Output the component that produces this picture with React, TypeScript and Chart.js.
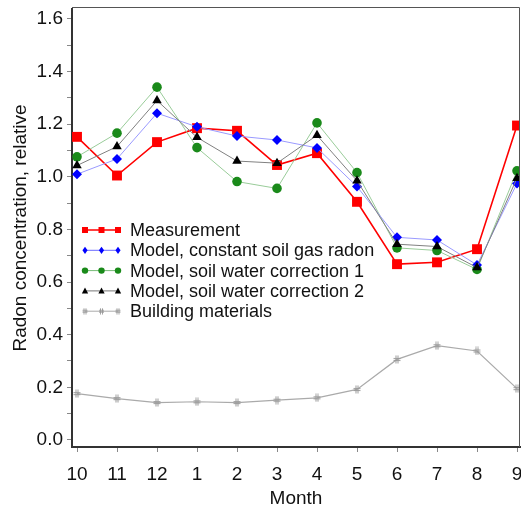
import React, { useEffect, useRef } from "react";
import { Chart, registerables } from "chart.js";

Chart.register(...registerables);

const months = ["10", "11", "12", "1", "2", "3", "4", "5", "6", "7", "8", "9"];
const measurement = [1.152, 1.005, 1.132, 1.185, 1.175, 1.045, 1.09, 0.905, 0.668, 0.675, 0.725, 1.195];
const modelConstant = [1.01, 1.068, 1.242, 1.19, 1.155, 1.14, 1.11, 0.963, 0.77, 0.76, 0.665, 0.975];
const modelSoil1 = [1.076, 1.166, 1.341, 1.111, 0.982, 0.956, 1.205, 1.016, 0.73, 0.72, 0.648, 1.023];
const modelSoil2 = [1.043, 1.115, 1.29, 1.15, 1.06, 1.052, 1.158, 0.985, 0.744, 0.735, 0.655, 0.995];
const building = [0.176, 0.157, 0.142, 0.145, 0.142, 0.151, 0.16, 0.192, 0.306, 0.358, 0.338, 0.195];
const yTicks = [0, 0.1, 0.2, 0.3, 0.4, 0.5, 0.6, 0.7, 0.8, 0.9, 1.0, 1.1, 1.2, 1.3, 1.4, 1.5, 1.6];

const FONT = "Arial, 'Liberation Sans', Helvetica, sans-serif";

function makeHashMarker(size: number, color: string): HTMLCanvasElement {
  const c = document.createElement("canvas");
  c.width = size;
  c.height = size;
  const g = c.getContext("2d")!;
  g.strokeStyle = color;
  g.lineWidth = 1;
  const a = Math.round(size * 0.35) + 0.5;
  const b = Math.round(size * 0.65) - 0.5;
  g.beginPath();
  g.moveTo(a, 0.5);
  g.lineTo(a, size - 0.5);
  g.moveTo(b, 0.5);
  g.lineTo(b, size - 0.5);
  g.moveTo(1, size * 0.4);
  g.lineTo(size - 1, size * 0.4);
  g.moveTo(1, size * 0.62);
  g.lineTo(size - 1, size * 0.62);
  g.stroke();
  return c;
}

function drawMarker(ctx: CanvasRenderingContext2D, style: any, x: number, y: number, r: number, color: string) {
  ctx.save();
  ctx.fillStyle = color;
  ctx.strokeStyle = color;
  if (typeof style !== "string") {
    const w = style.width;
    ctx.drawImage(style, x - w / 2, y - w / 2);
    ctx.restore();
    return;
  }
  ctx.beginPath();
  if (style === "rect") {
    ctx.rect(x - r, y - r, 2 * r, 2 * r);
  } else if (style === "rectRot") {
    ctx.moveTo(x, y - r * 1.2);
    ctx.lineTo(x + r * 0.85, y);
    ctx.lineTo(x, y + r * 1.2);
    ctx.lineTo(x - r * 0.85, y);
    ctx.closePath();
  } else if (style === "circle") {
    ctx.arc(x, y, r, 0, Math.PI * 2);
  } else if (style === "triangle") {
    ctx.moveTo(x, y - r);
    ctx.lineTo(x + r * 0.9, y + r * 0.75);
    ctx.lineTo(x - r * 0.9, y + r * 0.75);
    ctx.closePath();
  }
  ctx.fill();
  ctx.restore();
}

export default function App() {
  const ref = useRef<HTMLCanvasElement | null>(null);

  useEffect(() => {
    if (!ref.current) return;
    const hashChart = makeHashMarker(9, "#9a9a9a");
    const hashLegend = makeHashMarker(7, "#9a9a9a");
    const toXY = (arr: number[]) => arr.map((v, i) => ({ x: i, y: v }));

    const legendItems = [
      { label: "Measurement", line: "#ff0000", lw: 1.5, style: "rect", r: 3, color: "#ff0000" },
      { label: "Model, constant soil gas radon", line: "#6a6aff", lw: 1, style: "rectRot", r: 3, color: "#0000ff" },
      { label: "Model, soil water correction 1", line: "#77bb77", lw: 1, style: "circle", r: 3.2, color: "#1a8a1a" },
      { label: "Model, soil water correction 2", line: "#777777", lw: 1, style: "triangle", r: 3.5, color: "#000000" },
      { label: "Building materials", line: "#aaaaaa", lw: 1, style: hashLegend, r: 3, color: "#9a9a9a" },
    ];

    const legendPlugin = {
      id: "customLegend",
      afterDatasetsDraw(chart: any) {
        const { ctx, chartArea } = chart;
        const x0 = chartArea.left + 13;
        const x1 = chartArea.left + 46;
        legendItems.forEach((it, i) => {
          const y = chartArea.top + 221 + i * 20.3;
          ctx.save();
          ctx.strokeStyle = it.line;
          ctx.lineWidth = it.lw;
          ctx.beginPath();
          ctx.moveTo(x0, y);
          ctx.lineTo(x1, y);
          ctx.stroke();
          ctx.restore();
          [x0, (x0 + x1) / 2, x1].forEach((mx) => drawMarker(ctx, it.style, mx, y, it.r, it.color));
          ctx.save();
          ctx.fillStyle = "#111";
          ctx.font = `18px ${FONT}`;
          ctx.textBaseline = "middle";
          ctx.fillText(it.label, chartArea.left + 58, y + 1);
          ctx.restore();
        });
      },
      afterDraw(chart: any) {
        const { ctx, chartArea } = chart;
        ctx.save();
        ctx.strokeStyle = "#555";
        ctx.lineWidth = 1;
        ctx.beginPath();
        ctx.moveTo(chartArea.left, chartArea.top - 1.5);
        ctx.lineTo(chartArea.right - 0.5, chartArea.top - 1.5);
        ctx.lineTo(chartArea.right - 0.5, chartArea.bottom);
        ctx.stroke();
        ctx.restore();
      },
    };

    const chart = new Chart(ref.current, {
      type: "line",
      data: {
        datasets: [
          {
            label: "Model, soil water correction 2",
            data: toXY(modelSoil2),
            borderColor: "#808080",
            borderWidth: 1,
            pointStyle: "triangle",
            pointRadius: 5.5,
            pointBackgroundColor: "#000",
            pointBorderColor: "#000",
            pointBorderWidth: 0,
            order: 0,
          },
          {
            label: "Model, constant soil gas radon",
            data: toXY(modelConstant),
            borderColor: "#9a9aff",
            borderWidth: 1,
            pointStyle: "rectRot",
            pointRadius: 5,
            pointBackgroundColor: "#0000ff",
            pointBorderColor: "#0000ff",
            pointBorderWidth: 0,
            order: 1,
          },
          {
            label: "Model, soil water correction 1",
            data: toXY(modelSoil1),
            borderColor: "#99cc99",
            borderWidth: 1,
            pointStyle: "circle",
            pointRadius: 4.8,
            pointBackgroundColor: "#1a8a1a",
            pointBorderColor: "#1a8a1a",
            pointBorderWidth: 0,
            order: 2,
          },
          {
            label: "Measurement",
            data: toXY(measurement),
            borderColor: "#ff0000",
            borderWidth: 1.6,
            pointStyle: "rect",
            pointRadius: 7,
            pointBackgroundColor: "#ff0000",
            pointBorderColor: "#ff0000",
            pointBorderWidth: 0,
            order: 3,
          },
          {
            label: "Building materials",
            data: toXY(building),
            borderColor: "#aaaaaa",
            borderWidth: 1.2,
            pointStyle: hashChart,
            pointRadius: 4.5,
            order: 4,
          },
        ],
      },
      options: {
        responsive: false,
        animation: false,
        layout: { autoPadding: false, padding: { top: 9, right: 1, left: 0, bottom: 0 } },
        plugins: {
          legend: { display: false },
          tooltip: { enabled: false },
        },
        scales: {
          x: {
            type: "linear",
            min: -0.125,
            max: 11.075,
            afterBuildTicks: (s: any) => {
              s.ticks = months.map((_, i) => ({ value: i }));
            },
            afterFit: (s: any) => {
              s.height = 60;
              s.paddingLeft = 0;
              s.paddingRight = 0;
            },
            ticks: {
              callback: (v: any) => months[Math.round(v)],
              font: { size: 19, family: FONT },
              color: "#111",
              padding: 11,
              autoSkip: false,
              maxRotation: 0,
            },
            grid: { drawOnChartArea: false, tickLength: 5, color: "#888" },
            border: { color: "#333", width: 2 },
            title: {
              display: true,
              text: "Month",
              font: { size: 19, family: FONT },
              color: "#111",
              padding: { top: 0, bottom: -3 },
            },
          },
          y: {
            min: -0.027,
            max: 1.638,
            afterBuildTicks: (s: any) => {
              s.ticks = yTicks.map((v) => ({ value: v }));
            },
            afterFit: (s: any) => {
              s.width = 72;
              s.paddingTop = 0;
              s.paddingBottom = 0;
            },
            ticks: {
              callback: (v: any) => {
                const k = Math.round(v * 10);
                return k % 2 === 0 ? (k / 10).toFixed(1) : "";
              },
              font: { size: 19, family: FONT },
              color: "#111",
              padding: 4,
              autoSkip: false,
            },
            grid: { drawOnChartArea: false, tickLength: 5, color: "#888" },
            border: { color: "#333", width: 2 },
            title: {
              display: true,
              text: "Radon concentration, relative",
              font: { size: 19, family: FONT },
              color: "#111",
              padding: { top: 9, bottom: 0 },
            },
          },
        },
      },
      plugins: [legendPlugin],
    } as any);

    return () => chart.destroy();
  }, []);

  return (
    <canvas
      ref={ref}
      width={521}
      height={507}
      style={{ position: "absolute", left: 0, top: 0, display: "block" }}
    />
  );
}
